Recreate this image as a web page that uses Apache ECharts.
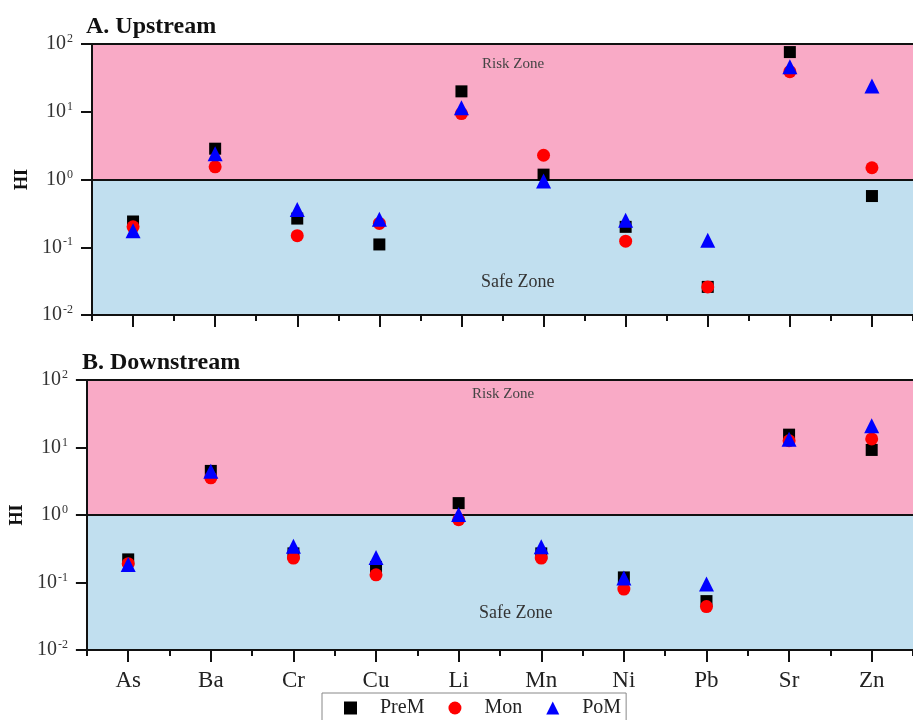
<!DOCTYPE html>
<html>
<head>
<meta charset="utf-8">
<script src="https://cdn.jsdelivr.net/npm/echarts@6/dist/echarts.min.js"></script>
<style>html,body{margin:0;padding:0;background:#fff}#c{width:913px;height:720px}</style>
</head>
<body>
<div id="c"></div>
<script>
var categories = ['As','Ba','Cr','Cu','Li','Mn','Ni','Pb','Sr','Zn'];
var seriesNames = ['PreM','Mon','PoM'];
var yTickExponents = [-2,-1,0,1,2];
// Upstream
var upPreM = [0.24, 2.85, 0.265, 0.11, 20, 1.18, 0.20, 0.026, 76, 0.57];
var upMon  = [0.20, 1.54, 0.148, 0.225, 9.4, 2.28, 0.123, 0.026, 39, 1.49];
var upPoM  = [0.175, 2.4, 0.36, 0.26, 11.5, 0.95, 0.25, 0.127, 46, 24];
// Downstream
var dnPreM = [0.22, 4.5, 0.27, 0.17, 1.5, 0.27, 0.119, 0.053, 15.5, 9.2];
var dnMon  = [0.19, 3.55, 0.23, 0.13, 0.85, 0.23, 0.080, 0.044, 12.6, 13.4];
var dnPoM  = [0.185, 4.45, 0.345, 0.235, 1.02, 0.34, 0.117, 0.095, 13.2, 21];

var serif = 'Liberation Serif';
var PINK = '#F9AAC6', BLUE = '#C1DFEF';

function yAxisDef(gridIndex, nameGap) {
  return {
    gridIndex: gridIndex,
    type: 'log', logBase: 10, min: 0.01, max: 100, splitNumber: 4,
    name: 'HI', nameLocation: 'middle', nameRotate: 90, nameGap: nameGap,
    nameTextStyle: {fontFamily: serif, fontWeight: 'bold', fontSize: 18, color: '#111'},
    axisLine: {show: true, lineStyle: {color: '#111', width: 2}},
    axisTick: {show: true, length: 11, lineStyle: {color: '#111', width: 2}},
    axisLabel: {
      margin: 19, color: '#333',
      formatter: function (v) {
        var e = Math.round(Math.log(v) / Math.LN10);
        return '{b|10}{s|' + e + '}';
      },
      rich: {
        b: {fontFamily: serif, fontSize: 20, color: '#333', lineHeight: 22},
        s: {fontFamily: serif, fontSize: 12, color: '#333', verticalAlign: 'top', lineHeight: 14, padding: [0, 0, 0, 1]}
      }
    },
    splitLine: {show: true, lineStyle: {color: ['#111', 'rgba(0,0,0,0)', '#111', 'rgba(0,0,0,0)', '#111'], width: 2}},
    splitArea: {show: true, areaStyle: {color: [BLUE, BLUE, PINK, PINK]}}
  };
}

function xAxisMain(gridIndex, showLabels) {
  return {
    type: 'category', gridIndex: gridIndex, data: categories, position: 'bottom',
    boundaryGap: true, z: 5,
    axisLine: {show: true, lineStyle: {color: '#111', width: 2}},
    axisTick: {show: true, alignWithLabel: true, length: 12, lineStyle: {color: '#111', width: 2}},
    axisLabel: {show: showLabels, margin: 19, fontFamily: serif, fontSize: 23, color: '#222'},
    splitLine: {show: false}
  };
}
function xAxisMinor(gridIndex) {
  return {
    type: 'category', gridIndex: gridIndex, data: categories, position: 'bottom',
    boundaryGap: true, z: 5,
    axisLine: {show: false},
    axisTick: {show: true, alignWithLabel: false, length: 6, lineStyle: {color: '#111', width: 2}},
    axisLabel: {show: false},
    splitLine: {show: false}
  };
}

function scatter(name, data, xi, yi, symbol, size, color) {
  return {
    name: name, type: 'scatter', xAxisIndex: xi, yAxisIndex: yi,
    data: data, symbol: symbol, symbolSize: size,
    itemStyle: {color: color, opacity: 1}
  };
}

var option = {
  animation: false,
  backgroundColor: '#fff',
  title: [
    {text: 'A. Upstream', left: 81, top: 10, textStyle: {fontFamily: serif, fontWeight: 'bold', fontSize: 24, color: '#111'}},
    {text: 'B. Downstream', left: 77, top: 346, textStyle: {fontFamily: serif, fontWeight: 'bold', fontSize: 24, color: '#111'}}
  ],
  grid: [
    {left: 92, top: 44, width: 830, height: 271, containLabel: false},
    {left: 86, top: 380, width: 835, height: 270, containLabel: false}
  ],
  xAxis: [xAxisMain(0, false), xAxisMinor(0), xAxisMain(1, true), xAxisMinor(1)],
  yAxis: [yAxisDef(0, 61), yAxisDef(1, 57)],
  legend: {
    left: 322, top: 693, orient: 'horizontal',
    data: [
      {name: 'PreM', icon: 'rect', itemStyle: {color: '#000'}},
      {name: 'Mon', icon: 'circle', itemStyle: {color: '#f00'}},
      {name: 'PoM', icon: 'triangle', itemStyle: {color: '#00f'}}
    ],
    itemWidth: 13, itemHeight: 13, itemGap: 24,
    padding: [5, 5, 8, 22],
    borderColor: '#888', borderWidth: 1,
    textStyle: {fontFamily: serif, fontSize: 20, color: '#222', padding: [0, 0, 0, 18]}
  },
  graphic: [
    {type: 'text', left: 482, top: 57, z: 10, style: {text: 'Risk Zone', font: '15px "Liberation Serif"', fill: '#444'}},
    {type: 'text', left: 481, top: 273, z: 10, style: {text: 'Safe Zone', font: '18px "Liberation Serif"', fill: '#333'}},
    {type: 'text', left: 472, top: 387, z: 10, style: {text: 'Risk Zone', font: '15px "Liberation Serif"', fill: '#444'}},
    {type: 'text', left: 479, top: 604, z: 10, style: {text: 'Safe Zone', font: '18px "Liberation Serif"', fill: '#333'}}
  ],
  series: [
    scatter('PreM', upPreM, 0, 0, 'rect', 12, '#000'),
    scatter('Mon', upMon, 0, 0, 'circle', 13, '#f00'),
    scatter('PoM', upPoM, 0, 0, 'triangle', 15, '#00f'),
    scatter('PreM', dnPreM, 2, 1, 'rect', 12, '#000'),
    scatter('Mon', dnMon, 2, 1, 'circle', 13, '#f00'),
    scatter('PoM', dnPoM, 2, 1, 'triangle', 15, '#00f')
  ]
};
var chart = echarts.init(document.getElementById('c'), null, {renderer: 'canvas'});
chart.setOption(option);
</script>
</body>
</html>
